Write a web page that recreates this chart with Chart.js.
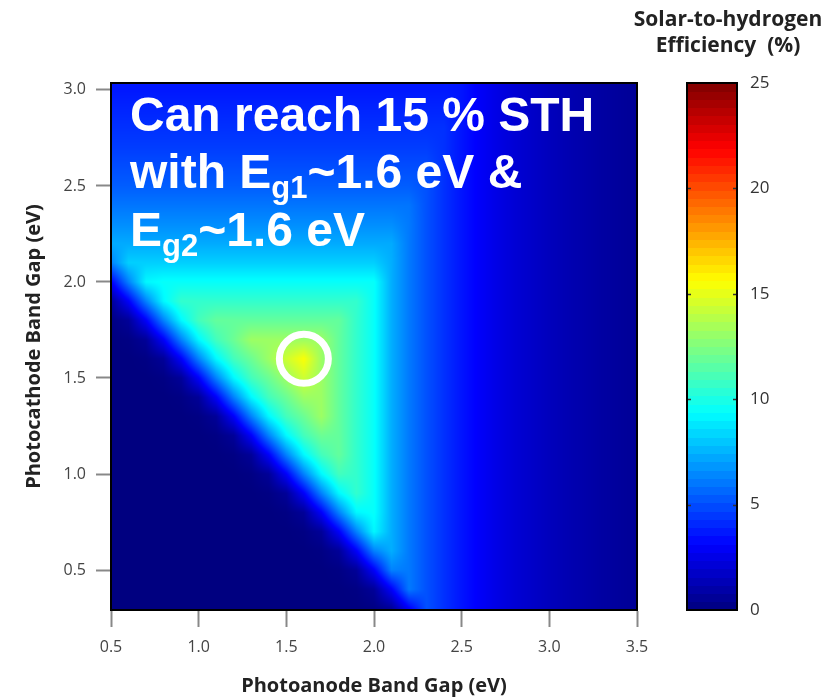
<!DOCTYPE html>
<html><head><meta charset="utf-8">
<script src="https://cdn.jsdelivr.net/npm/chart.js@4.4.0/dist/chart.umd.min.js"></script>
<style>html,body{margin:0;padding:0;background:#fff}canvas{display:block}</style>
</head><body>
<canvas id="c" width="827" height="699"></canvas>
<script>
// ---------------- data ----------------
const anodeGaps = [0.5,0.6,0.7,0.8,0.9,1.0,1.1,1.2,1.3,1.4,1.5,1.6,1.7,1.8,1.9,2.0,2.1,2.2,2.3,2.4,2.5,2.6,2.7,2.8,2.9,3.0,3.1,3.2,3.3,3.4,3.5];
const cathodeGaps = [3.0,2.9,2.8,2.7,2.6,2.5,2.4,2.3,2.2,2.1,2.0,1.9,1.8,1.7,1.6,1.5,1.4,1.3,1.2,1.1,1.0,0.9,0.8,0.7,0.6,0.5,0.4,0.3];
// STH efficiency (%) ; rows follow cathodeGaps, columns follow anodeGaps
const sthEfficiency = [
 [3.7,3.7,3.7,3.7,3.7,3.7,3.7,3.7,3.7,3.7,3.7,3.7,3.7,3.7,3.7,3.7,3.7,3.7,3.7,3.7,3.6,3.0,2.5,2.1,1.8,1.5,1.25,1.05,0.85,0.7,0.55],
 [4.0,4.0,4.0,4.0,4.0,4.0,4.0,4.0,4.0,4.0,4.0,4.0,4.0,4.0,4.0,4.0,4.0,4.0,4.0,4.0,3.6,3.0,2.5,2.1,1.8,1.5,1.25,1.05,0.85,0.7,0.55],
 [4.3,4.3,4.3,4.3,4.3,4.3,4.3,4.3,4.3,4.3,4.3,4.3,4.3,4.3,4.3,4.3,4.3,4.3,4.3,4.3,3.6,3.0,2.5,2.1,1.8,1.5,1.25,1.05,0.85,0.7,0.55],
 [4.6,4.6,4.6,4.6,4.6,4.6,4.6,4.6,4.6,4.6,4.6,4.6,4.6,4.6,4.6,4.6,4.6,4.6,4.6,4.3,3.6,3.0,2.5,2.1,1.8,1.5,1.25,1.05,0.85,0.7,0.55],
 [5.0,5.0,5.0,5.0,5.0,5.0,5.0,5.0,5.0,5.0,5.0,5.0,5.0,5.0,5.0,5.0,5.0,5.0,5.0,4.3,3.6,3.0,2.5,2.1,1.8,1.5,1.25,1.05,0.85,0.7,0.55],
 [5.4,5.4,5.4,5.4,5.4,5.4,5.4,5.4,5.4,5.4,5.4,5.4,5.4,5.4,5.4,5.4,5.4,5.4,5.1,4.3,3.6,3.0,2.5,2.1,1.8,1.5,1.25,1.05,0.85,0.7,0.55],
 [6.0,6.0,6.0,6.0,6.0,6.0,6.0,6.0,6.0,6.0,6.0,6.0,6.0,6.0,6.0,6.0,6.0,6.0,5.1,4.3,3.6,3.0,2.5,2.1,1.8,1.5,1.25,1.05,0.85,0.7,0.55],
 [6.6,6.6,6.6,6.6,6.6,6.6,6.6,6.6,6.6,6.6,6.6,6.6,6.6,6.6,6.6,6.6,6.6,6.1,5.1,4.3,3.6,3.0,2.5,2.1,1.8,1.5,1.25,1.05,0.85,0.7,0.55],
 [7.3,7.3,7.3,7.3,7.3,7.3,7.3,7.3,7.3,7.3,7.3,7.3,7.3,7.3,7.3,7.3,7.3,6.1,5.1,4.3,3.6,3.0,2.5,2.1,1.8,1.5,1.25,1.05,0.85,0.7,0.55],
 [6.3,8.2,8.2,8.2,8.2,8.2,8.2,8.2,8.2,8.2,8.2,8.2,8.2,8.2,8.2,8.2,7.4,6.1,5.1,4.3,3.6,3.0,2.5,2.1,1.8,1.5,1.25,1.05,0.85,0.7,0.55],
 [3.0,6.3,9.2,9.5,9.5,9.5,9.5,9.5,9.5,9.5,9.5,9.5,9.5,9.5,9.5,9.5,7.4,6.1,5.1,4.3,3.6,3.0,2.5,2.1,1.8,1.5,1.25,1.05,0.85,0.7,0.55],
 [0.6,3.0,6.3,9.2,10.6,10.6,10.6,10.6,10.6,10.6,10.6,10.6,10.6,10.6,10.6,9.5,7.4,6.1,5.1,4.3,3.6,3.0,2.5,2.1,1.8,1.5,1.25,1.05,0.85,0.7,0.55],
 [0.1,0.6,3.0,6.3,9.2,11.0,11.8,11.8,11.8,11.8,11.8,11.8,11.8,11.8,10.6,9.5,7.4,6.1,5.1,4.3,3.6,3.0,2.5,2.1,1.8,1.5,1.25,1.05,0.85,0.7,0.55],
 [0,0.1,0.6,3.0,6.3,9.2,11.0,12.0,13.2,13.2,13.2,13.2,13.2,11.8,10.6,9.5,7.4,6.1,5.1,4.3,3.6,3.0,2.5,2.1,1.8,1.5,1.25,1.05,0.85,0.7,0.55],
 [0,0,0.1,0.6,3.0,6.3,9.2,11.0,12.0,13.2,14.4,15.5,13.2,11.8,10.6,9.5,7.4,6.1,5.1,4.3,3.6,3.0,2.5,2.1,1.8,1.5,1.25,1.05,0.85,0.7,0.55],
 [0,0,0,0.1,0.6,3.0,6.3,9.2,11.0,12.0,13.2,14.4,13.2,11.8,10.6,9.5,7.4,6.1,5.1,4.3,3.6,3.0,2.5,2.1,1.8,1.5,1.25,1.05,0.85,0.7,0.55],
 [0,0,0,0,0.1,0.6,3.0,6.3,9.2,11.0,12.0,13.2,13.2,11.8,10.6,9.5,7.4,6.1,5.1,4.3,3.6,3.0,2.5,2.1,1.8,1.5,1.25,1.05,0.85,0.7,0.55],
 [0,0,0,0,0,0.1,0.6,3.0,6.3,9.2,11.0,12.0,13.2,11.8,10.6,9.5,7.4,6.1,5.1,4.3,3.6,3.0,2.5,2.1,1.8,1.5,1.25,1.05,0.85,0.7,0.55],
 [0,0,0,0,0,0,0.1,0.6,3.0,6.3,9.2,11.0,12.0,11.8,10.6,9.5,7.4,6.1,5.1,4.3,3.6,3.0,2.5,2.1,1.8,1.5,1.25,1.05,0.85,0.7,0.55],
 [0,0,0,0,0,0,0,0.1,0.6,3.0,6.3,9.2,11.0,11.8,10.6,9.5,7.4,6.1,5.1,4.3,3.6,3.0,2.5,2.1,1.8,1.5,1.25,1.05,0.85,0.7,0.55],
 [0,0,0,0,0,0,0,0,0.1,0.6,3.0,6.3,9.2,11.0,10.6,9.5,7.4,6.1,5.1,4.3,3.6,3.0,2.5,2.1,1.8,1.5,1.25,1.05,0.85,0.7,0.55],
 [0,0,0,0,0,0,0,0,0,0.1,0.6,3.0,6.3,9.2,10.6,9.5,7.4,6.1,5.1,4.3,3.6,3.0,2.5,2.1,1.8,1.5,1.25,1.05,0.85,0.7,0.55],
 [0,0,0,0,0,0,0,0,0,0,0.1,0.6,3.0,6.3,9.2,9.5,7.4,6.1,5.1,4.3,3.6,3.0,2.5,2.1,1.8,1.5,1.25,1.05,0.85,0.7,0.55],
 [0,0,0,0,0,0,0,0,0,0,0,0.1,0.6,3.0,6.3,9.2,7.4,6.1,5.1,4.3,3.6,3.0,2.5,2.1,1.8,1.5,1.25,1.05,0.85,0.7,0.55],
 [0,0,0,0,0,0,0,0,0,0,0,0,0.1,0.6,3.0,6.3,7.4,6.1,5.1,4.3,3.6,3.0,2.5,2.1,1.8,1.5,1.25,1.05,0.85,0.7,0.55],
 [0,0,0,0,0,0,0,0,0,0,0,0,0,0.1,0.6,3.0,6.3,6.1,5.1,4.3,3.6,3.0,2.5,2.1,1.8,1.5,1.25,1.05,0.85,0.7,0.55],
 [0,0,0,0,0,0,0,0,0,0,0,0,0,0,0.1,0.6,3.0,6.1,5.1,4.3,3.6,3.0,2.5,2.1,1.8,1.5,1.25,1.05,0.85,0.7,0.55],
 [0,0,0,0,0,0,0,0,0,0,0,0,0,0,0,0.1,0.6,3.0,5.1,4.3,3.6,3.0,2.5,2.1,1.8,1.5,1.25,1.05,0.85,0.7,0.55]
];
const xTickValues = [0.5,1.0,1.5,2.0,2.5,3.0,3.5];
const yTickValues = [0.5,1.0,1.5,2.0,2.5,3.0];
const colorbarTicks = [0,5,10,15,20,25];
const colorbarRange = [0,25];
const xRange = [0.5,3.5];
const yRange = [0.292,3.036];
const optimumPoint = [{x:1.6, y:1.6}];
const annotationLines = [
  [{t:'Can reach 15 % STH'}],
  [{t:'with E'},{t:'g1',sub:true},{t:'~1.6 eV &'}],
  [{t:'E'},{t:'g2',sub:true},{t:'~1.6 eV'}]
];
const colorbarTitle = ['Solar-to-hydrogen','Efficiency  (%)'];

// ---------------- style ----------------
const FONT = '"Open Sans", "Noto Sans", sans-serif';
const ANNOT_FONT = '"Liberation Sans", Arial, sans-serif';
function jet(t){
  t = Math.max(0, Math.min(1, t));
  const c = v => Math.max(0, Math.min(1, v));
  return [c(1.5-Math.abs(4*t-3)), c(1.5-Math.abs(4*t-2)), c(1.5-Math.abs(4*t-1))];
}

const heatmapPlugin = {
  id: 'heatmap',
  beforeDatasetsDraw(chart){
    const {ctx, chartArea:a, scales:{x, y}} = chart;
    const L = Math.round(a.left), T = Math.round(a.top);
    const W = Math.round(a.right) - L, H = Math.round(a.bottom) - T;
    const img = ctx.createImageData(W, H);
    const nx = anodeGaps.length, ny = cathodeGaps.length;
    const vmax = colorbarRange[1];
    const colIndex = xv => {
      let k = 0;
      while (k < nx-2 && xv > anodeGaps[k+1]) k++;
      const f = (xv - anodeGaps[k])/(anodeGaps[k+1]-anodeGaps[k]);
      return [k, Math.max(0, Math.min(1, f))];
    };
    const rowIndex = yv => {
      let k = 0;
      while (k < ny-2 && yv < cathodeGaps[k+1]) k++;
      const f = (yv - cathodeGaps[k])/(cathodeGaps[k+1]-cathodeGaps[k]);
      return [k, Math.max(0, Math.min(1, f))];
    };
    const cols = [];
    for (let i = 0; i < W; i++) cols.push(colIndex(x.getValueForPixel(L+i+0.5)));
    for (let j = 0; j < H; j++){
      const [r0, fy] = rowIndex(y.getValueForPixel(T+j+0.5));
      const ra = sthEfficiency[r0], rb = sthEfficiency[r0+1];
      for (let i = 0; i < W; i++){
        const [c0, fx] = cols[i];
        const top = ra[c0]*(1-fx) + ra[c0+1]*fx;
        const bot = rb[c0]*(1-fx) + rb[c0+1]*fx;
        const v = top*(1-fy) + bot*fy;
        const [r,g,b] = jet(v/vmax);
        const p = (j*W + i)*4;
        img.data[p] = Math.round(r*255); img.data[p+1] = Math.round(g*255);
        img.data[p+2] = Math.round(b*255); img.data[p+3] = 255;
      }
    }
    ctx.putImageData(img, L, T);
  },
  afterDatasetsDraw(chart){
    const {ctx, chartArea:a} = chart;
    ctx.save();
    ctx.fillStyle = '#fff';
    ctx.textAlign = 'left';
    ctx.textBaseline = 'alphabetic';
    const baselines = [131, 188, 246];
    annotationLines.forEach((line, li) => {
      let xp = 130;
      line.forEach(seg => {
        ctx.font = seg.sub ? 'bold 31px ' + ANNOT_FONT : 'bold 48px ' + ANNOT_FONT;
        ctx.fillText(seg.t, xp, baselines[li] + (seg.sub ? 10 : 0));
        xp += ctx.measureText(seg.t).width;
      });
    });
    ctx.strokeStyle = '#000';
    ctx.lineWidth = 2;
    ctx.strokeRect(a.left, a.top, a.right - a.left, a.bottom - a.top);
    ctx.restore();
  },
  afterDraw(chart){
    const {ctx, scales:{cb}} = chart;
    const x0 = 687, x1 = 737;
    ctx.save();
    const n = 64, vmin = colorbarRange[0], vmax = colorbarRange[1];
    for (let k = 0; k < n; k++){
      const va = vmin + (vmax-vmin)*k/n, vb = vmin + (vmax-vmin)*(k+1)/n;
      const ya = cb.getPixelForValue(va), yb = cb.getPixelForValue(vb);
      const [r,g,b] = jet((k+0.5)/n);
      ctx.fillStyle = `rgb(${Math.round(r*255)},${Math.round(g*255)},${Math.round(b*255)})`;
      ctx.fillRect(x0, Math.floor(yb), x1-x0, Math.ceil(ya) - Math.floor(yb));
    }
    const yTop = cb.getPixelForValue(vmax), yBot = cb.getPixelForValue(vmin);
    ctx.strokeStyle = '#333';
    ctx.lineWidth = 1.5;
    colorbarTicks.forEach(v => {
      if (v === vmin || v === vmax) return;
      const yy = Math.round(cb.getPixelForValue(v)) + 0.5;
      ctx.beginPath();
      ctx.moveTo(x0, yy); ctx.lineTo(x0+4, yy);
      ctx.moveTo(x1, yy); ctx.lineTo(x1-4, yy);
      ctx.stroke();
    });
    ctx.strokeStyle = '#000';
    ctx.lineWidth = 2;
    ctx.strokeRect(x0, yTop, x1-x0, yBot-yTop);
    ctx.fillStyle = '#222';
    ctx.textAlign = 'center';
    ctx.textBaseline = 'middle';
    ctx.font = 'bold 21px ' + FONT;
    ctx.fillText(colorbarTitle[0], 728, 20);
    ctx.fillText(colorbarTitle[1], 728, 46);
    ctx.restore();
  }
};

new Chart(document.getElementById('c'), {
  type: 'scatter',
  data: {
    datasets: [{
      label: 'Optimum',
      data: optimumPoint,
      xAxisID: 'x', yAxisID: 'y',
      pointRadius: 24.5,
      pointHoverRadius: 24.5,
      pointBorderWidth: 7,
      borderColor: '#ffffff',
      backgroundColor: 'rgba(0,0,0,0)',
      pointBackgroundColor: 'rgba(0,0,0,0)',
      pointBorderColor: '#ffffff',
      clip: false
    }]
  },
  options: {
    responsive: false,
    animation: false,
    devicePixelRatio: 1,
    layout: { autoPadding: false, padding: { left: 0, top: 83, right: 0, bottom: 0 } },
    plugins: { legend: { display: false }, tooltip: { enabled: false } },
    scales: {
      x: {
        type: 'linear', position: 'bottom', min: xRange[0], max: xRange[1],
        afterBuildTicks: s => { s.ticks = xTickValues.map(v => ({value: v})); },
        afterFit: s => { s.height = 89; },
        ticks: { callback: v => Number(v).toFixed(1), font: {family: FONT, size: 16}, color: '#444', padding: 11, maxRotation: 0, autoSkip: false },
        grid: { drawOnChartArea: false, drawTicks: true, tickLength: 17, tickColor: '#888', tickWidth: 2 },
        border: { display: true, color: '#000', width: 2 },
        title: { display: true, text: 'Photoanode Band Gap (eV)', font: {family: FONT, size: 20, weight: 'bold'}, color: '#222', padding: {top: 0, bottom: 1} }
      },
      y: {
        type: 'linear', position: 'left', min: yRange[0], max: yRange[1],
        afterBuildTicks: s => { s.ticks = yTickValues.map(v => ({value: v})); },
        afterFit: s => { s.width = 111; },
        ticks: { callback: v => Number(v).toFixed(1), font: {family: FONT, size: 16}, color: '#444', padding: 10, autoSkip: false },
        grid: { drawOnChartArea: false, drawTicks: true, tickLength: 15, tickColor: '#888', tickWidth: 2 },
        border: { display: true, color: '#000', width: 2 },
        title: { display: true, text: 'Photocathode Band Gap (eV)', font: {family: FONT, size: 20, weight: 'bold'}, color: '#222', padding: {top: 22, bottom: 0} }
      },
      cb: {
        type: 'linear', position: 'right', min: colorbarRange[0], max: colorbarRange[1],
        afterBuildTicks: s => { s.ticks = colorbarTicks.map(v => ({value: v})); },
        afterFit: s => { s.width = 190; s.paddingTop = 0; s.paddingBottom = 0; },
        ticks: { font: {family: FONT, size: 17}, color: '#333', padding: 105, autoSkip: false },
        grid: { display: false },
        border: { display: false }
      }
    }
  },
  plugins: [heatmapPlugin]
});
</script>
</body></html>
